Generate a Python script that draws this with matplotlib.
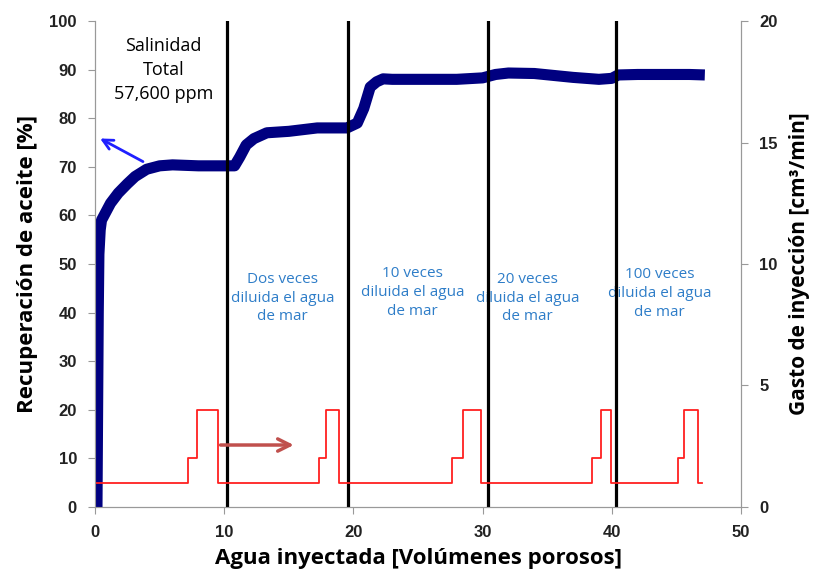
import matplotlib
matplotlib.use('Agg')
import matplotlib.pyplot as plt

# Recuperación de aceite (eje izquierdo, %)
rec_x = [0.15, 0.2, 0.25, 0.3, 0.4, 0.5, 0.8, 1.2, 1.8, 2.5, 3.1, 4.0, 5.0, 6.0, 8.0,
         10.0, 10.8, 11.2, 11.7, 12.3, 13.3, 15.0, 17.2, 19.5, 20.3, 20.8, 21.3, 21.8,
         22.3, 23.0, 25.0, 28.0, 30.0, 31.0, 32.0, 34.0, 35.5, 37.0, 39.0, 40.0, 40.5,
         42.0, 44.0, 46.0, 47.2]
rec_y = [0, 20, 40, 52, 57, 59, 60.5, 62.5, 64.6, 66.5, 68, 69.5, 70.2, 70.4, 70.2,
         70.2, 70.2, 72, 74.5, 75.8, 77, 77.3, 78, 78, 79, 82, 86.4, 87.5,
         88.1, 88, 88, 88, 88.3, 89, 89.3, 89.2, 88.8, 88.4, 88, 88.2, 88.9,
         89, 89, 89, 88.9]

# Gasto de inyección (eje derecho, cm3/min)
flow_x = [0, 7.2, 7.9, 9.5, 17.3, 17.9, 18.9, 27.6, 28.5, 29.9, 38.5, 39.2, 39.9,
          45.1, 45.6, 46.7, 47.0]
flow_q = [1, 2, 4, 1, 2, 4, 1, 2, 4, 1, 2, 4, 1, 2, 4, 1, 1]

# Cambios de salmuera
cambios = [10.2, 19.6, 30.4, 40.3]

etiquetas = ['Dos veces\ndiluida el agua\nde mar',
             '10 veces\ndiluida el agua\nde mar',
             '20 veces\ndiluida el agua\nde mar',
             '100 veces\ndiluida el agua\nde mar']
etiq_x = [14.5, 24.6, 33.5, 43.7]
etiq_y = [43, 44.2, 43, 44]

fig = plt.figure(figsize=(8.15, 5.79), dpi=100)
ax = fig.add_axes([0.1166, 0.1244, 0.7926, 0.8393])
ax2 = ax.twinx()

ax.plot(rec_x, rec_y, color='#000080', lw=8, solid_capstyle='butt', zorder=3)
for c in cambios:
    ax.plot([c, c], [0, 100], color='black', lw=2.3, zorder=4)

ax2.step(flow_x, flow_q, where='post', color='#FF2020', lw=1.3)

ax.set_xlim(0, 50)
ax.set_ylim(0, 100)
ax2.set_ylim(0, 20)
ax.set_xticks(range(0, 51, 10))
ax.set_yticks(range(0, 101, 10))
ax2.set_yticks(range(0, 21, 5))

tick_font = dict(family='Liberation Sans', weight='bold', size=12)
for lab in ax.get_xticklabels() + ax.get_yticklabels() + ax2.get_yticklabels():
    lab.set_fontproperties(matplotlib.font_manager.FontProperties(**tick_font))
    lab.set_color('#222222')

for a in (ax, ax2):
    a.spines['top'].set_visible(False)
    for s in ('left', 'right', 'bottom'):
        a.spines[s].set_color('#999999')
    a.tick_params(colors='#999999', length=5, labelcolor='#222222')
ax.tick_params(axis='y', pad=8)
ax2.tick_params(axis='y', pad=8)
ax.tick_params(axis='x', pad=8)

ax.set_xlabel('Agua inyectada [Volúmenes porosos]', family='Open Sans',
              weight='bold', fontsize=16, labelpad=6)
ax.set_ylabel('Recuperación de aceite [%]', family='Open Sans',
              weight='bold', fontsize=16, labelpad=8)
ax2.set_ylabel('Gasto de inyección [cm³/min]', family='Open Sans',
               weight='bold', fontsize=15, labelpad=8)

ax.text(5.3, 89.9, 'Salinidad\nTotal\n57,600 ppm', ha='center', va='center',
        family='Open Sans', fontsize=13, linespacing=1.45)
for t, x, y in zip(etiquetas, etiq_x, etiq_y):
    ax.text(x, y, t, ha='center', va='center', family='Open Sans',
            fontsize=11, color='#2E7DC8', linespacing=1.35)

ax.annotate('', xy=(0.2, 76.1), xytext=(3.9, 70.8),
            arrowprops=dict(arrowstyle='->', color='#1F1FFF', lw=2,
                            mutation_scale=18))
ax2.annotate('', xy=(15.6, 2.55), xytext=(9.5, 2.55),
             arrowprops=dict(arrowstyle='->', color='#C0504D', lw=2.5,
                             mutation_scale=22))

fig.savefig('out.png', dpi=100)
